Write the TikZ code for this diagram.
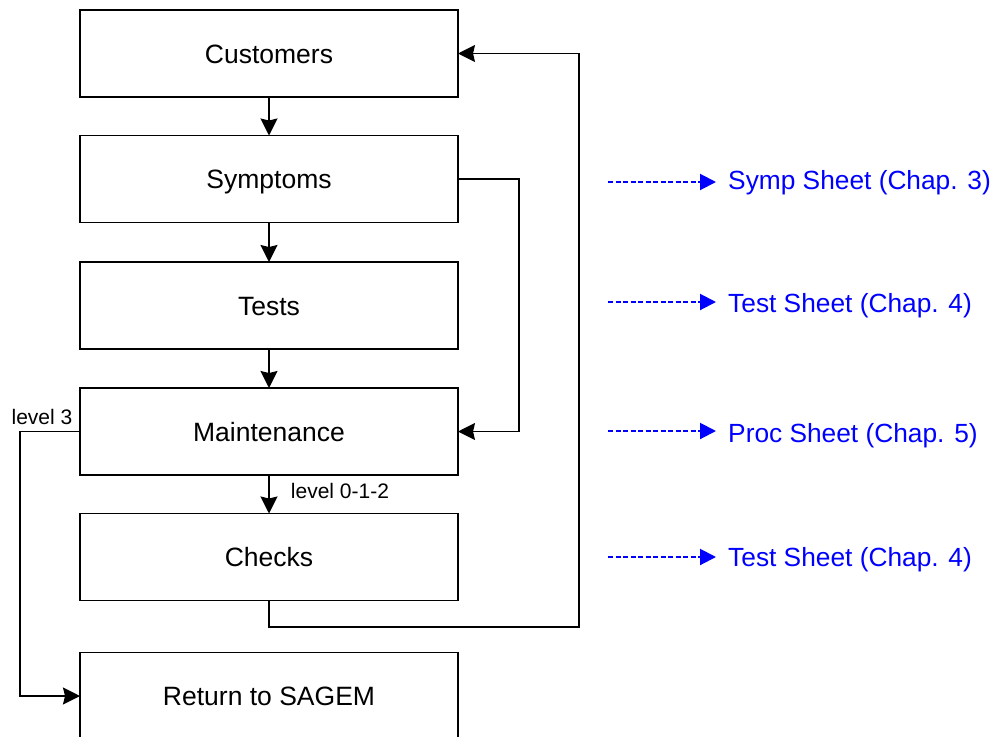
\documentclass[tikz,border=0pt]{standalone}
\usepackage{fontspec}
\setmainfont{Liberation Sans}
\usetikzlibrary{arrows.meta}
\begin{document}
\begin{tikzpicture}[x=1pt,y=-1pt,
  box/.style={draw, line width=1.8pt, minimum width=378pt, minimum height=87pt,
    font=\fontsize{26.5}{30}\selectfont, inner sep=0pt, outer sep=0pt,
    text height=19pt, text depth=0pt},
  arr/.style={line width=1.8pt, -{Stealth[length=17pt,width=17pt,inset=2pt]}},
  lbl/.style={font=\fontsize{21}{24}\selectfont, inner sep=0pt},
  sheet/.style={font=\fontsize{26.3}{30}\selectfont, text=blue, anchor=west,
    inner xsep=12pt, inner ysep=0pt, text height=19pt, text depth=0pt},
  barr/.style={draw=blue, line width=2pt, dash pattern=on 5pt off 2.5pt,
    -{Triangle[length=16pt,width=16pt]}}
]
\useasboundingbox (0,0) rectangle (995,736);
\node[box] (cust)  at (269,53.5)  {Customers};
\node[box] (symp)  at (269,179)   {Symptoms};
\node[box] (tests) at (269,305.5) {Tests};
\node[box] (maint) at (269,431.5) {Maintenance};
\node[box] (check) at (269,557)   {Checks};
\node[box] (ret)   at (269,696)   {Return to SAGEM};

\draw[arr] (cust) -- (symp);
\draw[arr] (symp) -- (tests);
\draw[arr] (tests) -- (maint);
\draw[arr] (maint) -- (check);

\draw[arr] (symp.east) -- ++(61,0) |- (maint.east);
\coordinate (loopR) at (579,627);
\draw[arr] (check.south) |- (loopR) |- (cust.east);
\draw[arr] (maint.west) -- ++(-60,0) |- (ret.west);

\node[lbl] (l3) at (42,417) {level 3};
\node[lbl] (l012) at (340,491) {level 0-1-2};

\coordinate (a1) at (608,182);
\coordinate (a2) at (608,302);
\coordinate (a3) at (608,431);
\coordinate (a4) at (608,557);
\node[sheet] (s1) at (716,180) {Symp Sheet (Chap. 3)};
\node[sheet] (s2) at (716,303) {Test Sheet (Chap. 4)};
\node[sheet] (s3) at (716,433) {Proc Sheet (Chap. 5)};
\node[sheet] (s4) at (716,557) {Test Sheet (Chap. 4)};
\draw[barr] (a1) -- (a1 -| s1.west);
\draw[barr] (a2) -- (a2 -| s2.west);
\draw[barr] (a3) -- (a3 -| s3.west);
\draw[barr] (a4) -- (a4 -| s4.west);
\end{tikzpicture}
\end{document}
